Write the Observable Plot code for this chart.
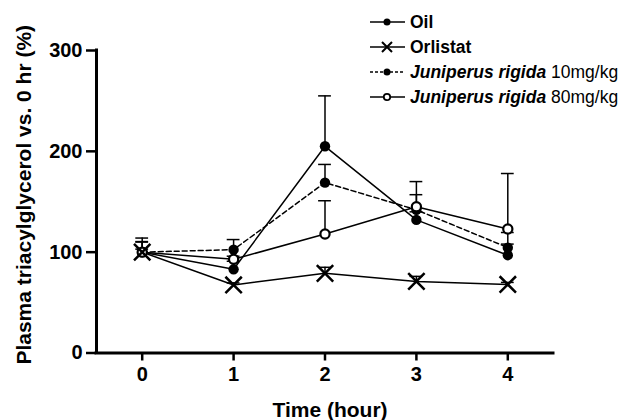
<!DOCTYPE html>
<html>
<head>
<meta charset="utf-8">
<script src="https://cdn.jsdelivr.net/npm/d3@7"></script>
<script src="https://cdn.jsdelivr.net/npm/@observablehq/plot@0.6"></script>
<style>
  html, body { margin: 0; padding: 0; background: #fff; }
  #chart { width: 629px; height: 420px; }
</style>
</head>
<body>
<div id="chart"></div>
<script>
const time = [0, 1, 2, 3, 4];
const oil = [100, 83, 205, 132, 97];
const oilErr = [10.5, 8, 50, 8, 11];
const orlistat = [100, 67.5, 79, 71, 68];
const orlistatErr = [3, 2, 6, 5, 2];
const jr10 = [100, 102.5, 169, 142, 104.5];
const jr10Err = [14, 10, 18, 15, 15];
const jr80 = [100, 93, 118, 145, 123];
const jr80Err = [10, 3, 33, 25, 55];
const xTicks = [0, 1, 2, 3, 4];
const yTicks = [0, 100, 200, 300];

const seriesDefs = [
  {name: "Oil", values: oil, err: oilErr, dash: null, kind: "filled"},
  {name: "Orlistat", values: orlistat, err: orlistatErr, dash: null, kind: "times"},
  {name: "JR10", values: jr10, err: jr10Err, dash: "5,3", kind: "filled"},
  {name: "JR80", values: jr80, err: jr80Err, dash: null, kind: "open"}
];
const rows = seriesDefs.flatMap(s => time.map((t, i) => ({
  series: s.name, x: t, y: s.values[i], top: s.values[i] + s.err[i], kind: s.kind
})));
const capHalf = 0.07;
const font = "'Liberation Sans', Arial, Helvetica, sans-serif";

const marks = [];
// error bars
marks.push(Plot.ruleX(rows, {x: "x", y1: "y", y2: "top", stroke: "#000", strokeWidth: 1.5}));
marks.push(Plot.ruleY(rows, {y: "top", x1: d => d.x - capHalf, x2: d => d.x + capHalf, stroke: "#000", strokeWidth: 1.5}));
// lines
for (const s of seriesDefs) {
  marks.push(Plot.line(rows.filter(d => d.series === s.name), {
    x: "x", y: "y", stroke: "#000", strokeWidth: 1.5,
    strokeDasharray: s.dash || undefined
  }));
}
// points
marks.push(Plot.dot(rows.filter(d => d.kind === "filled"), {x: "x", y: "y", r: 5.2, fill: "#000", stroke: "none"}));
marks.push(Plot.dot(rows.filter(d => d.kind === "open"), {x: "x", y: "y", r: 4.6, fill: "#fff", stroke: "#000", strokeWidth: 2.2}));
marks.push(Plot.dot(rows.filter(d => d.kind === "times"), {x: "x", y: "y", symbol: "times", r: 7.5, stroke: "#000", strokeWidth: 2.5}));
// axes
marks.push(Plot.ruleY([0], {stroke: "#000", strokeWidth: 3, strokeLinecap: "square"}));
marks.push(Plot.ruleX([-0.5], {y1: 0, y2: 300, stroke: "#000", strokeWidth: 3, strokeLinecap: "square"}));
marks.push(Plot.axisX({ticks: xTicks, tickSize: 8, tickPadding: 6, strokeWidth: 2.5, fontSize: 20, fontWeight: "bold", label: null, tickFormat: d => String(d)}));
marks.push(Plot.axisY({ticks: yTicks, tickSize: 10, tickPadding: 4, strokeWidth: 2.5, fontSize: 20, fontWeight: "bold", label: null, tickFormat: d => String(d)}));
// axis titles
marks.push(Plot.text(["Time (hour)"], {text: d => d, frameAnchor: "bottom", lineAnchor: "middle", textAnchor: "middle", dy: 57, dx: 5, fontSize: 21, fontWeight: "bold", fill: "#000"}));
marks.push(Plot.text(["Plasma triacylglycerol vs. 0 hr (%)"], {text: d => d, frameAnchor: "left", lineAnchor: "middle", textAnchor: "middle", dx: -72, dy: -7, rotate: -90, fontSize: 21, fontWeight: "bold", fill: "#000"}));

const chart = Plot.plot({
  width: 629,
  height: 420,
  marginLeft: 96,
  marginRight: 76,
  marginTop: 50,
  marginBottom: 67.5,
  style: {fontFamily: font, background: "#fff", color: "#000", overflow: "visible"},
  x: {domain: [-0.5, 4.5], axis: null},
  y: {domain: [0, 300], axis: null},
  marks
});
document.getElementById("chart").appendChild(chart);

// legend
const legendItems = [
  {kind: "filled", dash: null, parts: [{t: "Oil", w: "bold", s: "normal"}]},
  {kind: "times", dash: null, parts: [{t: "Orlistat", w: "bold", s: "normal"}]},
  {kind: "filled", dash: "3,2", parts: [{t: "Juniperus rigida", w: "bold", s: "italic"}, {t: " 10mg/kg", w: "normal", s: "normal"}]},
  {kind: "open", dash: null, parts: [{t: "Juniperus rigida", w: "bold", s: "italic"}, {t: " 80mg/kg", w: "normal", s: "normal"}]}
];
const svg = d3.select(chart);
const lg = svg.append("g").attr("font-family", font).attr("font-size", 17.5).attr("text-anchor", "start");
legendItems.forEach((it, i) => {
  const cy = 22 + i * 25;
  const g = lg.append("g").attr("transform", `translate(0,${cy})`);
  g.append("line").attr("x1", 370).attr("x2", 405).attr("y1", 0).attr("y2", 0)
    .attr("stroke", "#000").attr("stroke-width", 1.5)
    .attr("stroke-dasharray", it.dash);
  if (it.kind === "filled") {
    g.append("circle").attr("cx", 387).attr("cy", 0).attr("r", 3.5).attr("fill", "#000");
  } else if (it.kind === "open") {
    g.append("circle").attr("cx", 387).attr("cy", 0).attr("r", 3.2).attr("fill", "#fff").attr("stroke", "#000").attr("stroke-width", 1.8);
  } else {
    g.append("path").attr("d", "M382,-5L392,5M382,5L392,-5").attr("stroke", "#000").attr("stroke-width", 2);
  }
  const t = g.append("text").attr("x", 410).attr("y", 0).attr("dy", "0.35em").attr("fill", "#000").attr("text-anchor", "start");
  it.parts.forEach(p => t.append("tspan").attr("font-weight", p.w).attr("font-style", p.s).text(p.t));
});
</script>
</body>
</html>
